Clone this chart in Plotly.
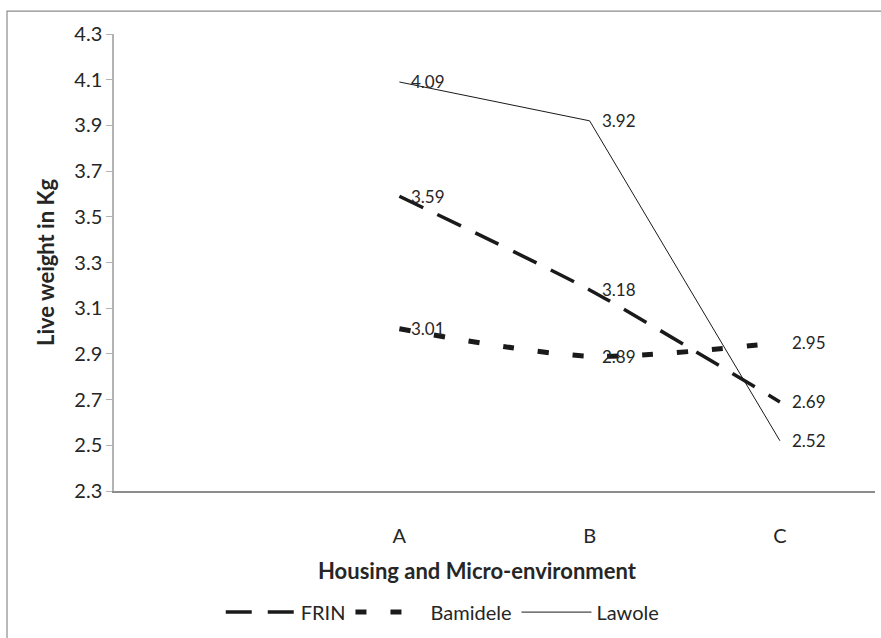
import plotly.graph_objects as go

categories = ["A", "B", "C"]
all_categories = [" ", "A", "B", "C"]
frin = [3.59, 3.18, 2.69]
bamidele = [3.01, 2.89, 2.95]
lawole = [4.09, 3.92, 2.52]
y_ticks = [2.3, 2.5, 2.7, 2.9, 3.1, 3.3, 3.5, 3.7, 3.9, 4.1, 4.3]

FONT = "Lato"
TXT = "#262626"

fig = go.Figure()
fig.add_trace(go.Scatter(x=categories, y=frin, name="FRIN", mode="lines",
                         line=dict(color="#1a1a1a", width=3.5, dash="26px,16px", shape="spline", smoothing=0.6)))
fig.add_trace(go.Scatter(x=categories, y=bamidele, name="Bamidele", mode="lines",
                         line=dict(color="#1a1a1a", width=5, dash="11px,24px", shape="spline", smoothing=0.8)))
fig.add_trace(go.Scatter(x=categories, y=lawole, name="Lawole", mode="lines",
                         line=dict(color="#1a1a1a", width=1, shape="linear")))

annotations = []
for series in (frin, bamidele, lawole):
    for c, v in zip(categories, series):
        annotations.append(dict(x=c, y=v, xref="x", yref="y", text=f"{v:.2f}",
                                showarrow=False, xanchor="left", yanchor="middle",
                                xshift=10, font=dict(family=FONT, size=17, color=TXT)))

annotations.append(dict(x=0.478, y=-0.175, xref="paper", yref="paper",
                        text="<b>Housing and Micro-environment</b>", showarrow=False,
                        xanchor="center", yanchor="middle",
                        font=dict(family=FONT, size=22, color=TXT)))
annotations.append(dict(x=-0.09, y=0.5, xref="paper", yref="paper",
                        text="<b>Live weight in Kg</b>", showarrow=False, textangle=-90,
                        xanchor="center", yanchor="middle",
                        font=dict(family=FONT, size=22, color=TXT)))
fig.update_layout(annotations=annotations)

fig.add_shape(type="rect", xref="paper", yref="paper",
              x0=-0.1406, x1=1.2, y0=-0.5, y1=1.0501,
              line=dict(color="#8c8c8c", width=1.2), fillcolor="rgba(0,0,0,0)", layer="below")

fig.update_layout(
    width=881, height=638,
    margin=dict(l=114, r=6, t=34, b=145),
    paper_bgcolor="white", plot_bgcolor="white",
    font=dict(family=FONT, size=17, color=TXT),
    showlegend=True,
    legend=dict(orientation="h", x=0.432, y=-0.265, xanchor="center", yanchor="middle",
                font=dict(family=FONT, size=20, color=TXT), itemwidth=70,
                bgcolor="rgba(0,0,0,0)"),
    xaxis=dict(type="category", categoryorder="array", categoryarray=all_categories,
               range=[-0.5, 3.5], showgrid=False, zeroline=False,
               showline=True, linecolor="#8c8c8c", linewidth=2,
               ticks="", ticklabelstandoff=26, tickfont=dict(family=FONT, size=20, color=TXT)),
    yaxis=dict(range=[2.3, 4.3], tickvals=y_ticks, ticktext=[f"{t:.1f}" for t in y_ticks],
               showgrid=False, zeroline=False, showline=True, linecolor="#b3b3b3", linewidth=1.5,
               ticks="outside", ticklen=6, tickcolor="#b3b3b3",
               tickfont=dict(family=FONT, size=20, color=TXT)),
)

fig.write_html("out.html", config={"displayModeBar": False},
               post_script="document.body.style.margin='0';")
